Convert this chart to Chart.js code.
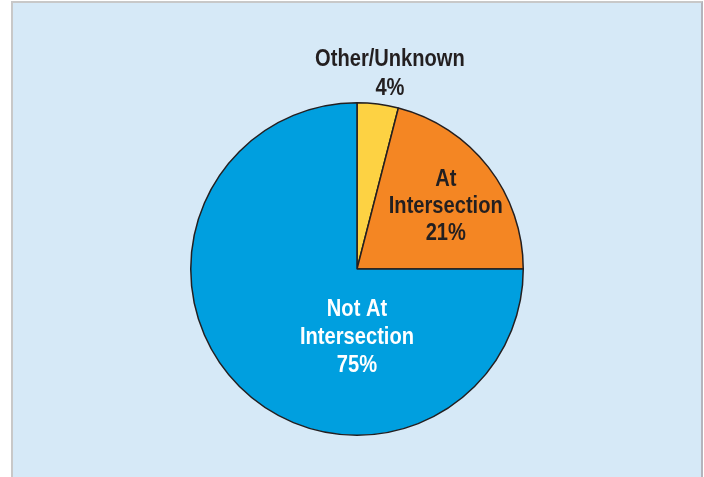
<!DOCTYPE html>
<html>
<head>
<meta charset="utf-8">
<script src="https://cdn.jsdelivr.net/npm/chart.js@4"></script>
<style>
  html, body { margin: 0; padding: 0; background: #fff; }
  #panel {
    position: absolute; left: 11px; top: 1px; width: 688px; height: 490px;
    background: #d6e9f7; border-top: 2px solid #c8c8c8; border-left: 2px solid #c8c8c8; border-right: 2px solid #b4b4bc;
  }
  #wrap { position: absolute; left: 0; top: 0; width: 704px; height: 477px; }
</style>
</head>
<body>
<div id="panel"></div>
<div id="wrap"><canvas id="myChart"></canvas></div>
<script>
const categories = ['Other/Unknown', 'At Intersection', 'Not At Intersection'];
const labelLines = [['Other/Unknown', '4%'], ['At', 'Intersection', '21%'], ['Not At', 'Intersection', '75%']];
const values = [4, 21, 75];
const colors = ['#fdd243', '#f48623', '#009fdf'];
const textColors = ['#231f20', '#231f20', '#ffffff'];
// where each label sits: fraction of radius, and optional fixed angle (degrees)
const labelRadius = [1.2, 0.66, 0.4];
const labelAngle = [-80.5, -36, 90];
const labelLineHeight = [29, 27, 28];

/* ETIQUETTES SUR LES PARTS */
const sliceLabels = {
    id: 'sliceLabels',
    afterDatasetsDraw(chart) {
        const ctx = chart.ctx;
        const meta = chart.getDatasetMeta(0);
        ctx.save();
        ctx.font = 'bold 24px "Liberation Sans", Arial, sans-serif';
        ctx.textAlign = 'center';
        ctx.textBaseline = 'alphabetic';
        // condensed look: squeeze the text horizontally
        const sx = 114 / ctx.measureText('Intersection').width;
        meta.data.forEach(function (arc, i) {
            const p = arc.getProps(['x', 'y', 'startAngle', 'endAngle', 'outerRadius']);
            const a = labelAngle[i] !== null ? labelAngle[i] * Math.PI / 180 : (p.startAngle + p.endAngle) / 2;
            const r = p.outerRadius * labelRadius[i];
            const cx = p.x + Math.cos(a) * r;
            const cy = p.y + Math.sin(a) * r;
            const lines = labelLines[i];
            const lh = labelLineHeight[i];
            ctx.fillStyle = textColors[i];
            lines.forEach(function (t, k) {
                const y = cy + (k - (lines.length - 1) / 2) * lh + 8.5;
                ctx.save();
                ctx.translate(cx, y);
                ctx.scale(sx, 1);
                ctx.fillText(t, 0, 0);
                ctx.restore();
            });
        });
        ctx.restore();
    }
};

var ctx = document.getElementById('myChart').getContext('2d');
var myPieChart = new Chart(ctx, {
    type: 'pie',
    data: {
        labels: categories,
        datasets: [{
            data: values,
            backgroundColor: colors,
            borderColor: '#231f20',
            borderWidth: 1.5
        }]
    },
    options: {
        responsive: true,
        maintainAspectRatio: false,
        animation: false,
        layout: { padding: { left: 190, right: 180, top: 102, bottom: 41 } },
        plugins: {
            legend: { display: false },
            tooltip: { enabled: false }
        }
    },
    plugins: [sliceLabels]
});
</script>
</body>
</html>
